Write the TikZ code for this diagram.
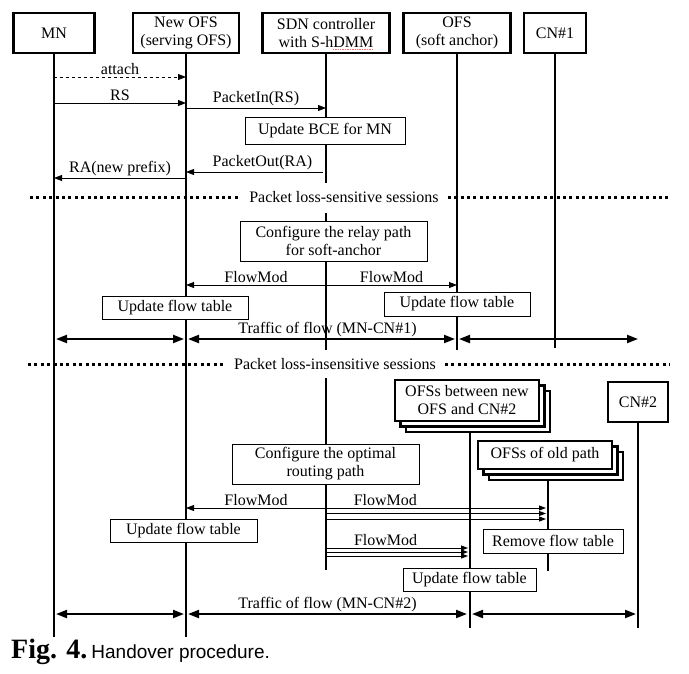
\documentclass[tikz,border=0pt]{standalone}
\usepackage{fontspec}
\setmainfont{Liberation Serif}
\newfontfamily\capsans{Liberation Sans}
\usetikzlibrary{arrows.meta,shadows}
\begin{document}
\begin{tikzpicture}[x=1pt,y=-1pt,font=\fontsize{16}{18}\selectfont,
hdr/.style={draw, line width=2.2pt, fill=white, align=center, minimum height=40pt, inner sep=0pt},
stack/.style={hdr, double copy shadow={shadow xshift=5.5pt, shadow yshift=-5.5pt, draw, fill=white, line width=2.2pt}},
act/.style={draw, line width=0.9pt, fill=white, align=center, inner sep=0pt},
life/.style={line width=1.4pt},
msg/.style={line width=0.9pt, -{Triangle[length=8pt,width=6pt]}},
tri/.style={line width=0.9pt, -{Triangle[length=7pt,width=5pt]}},
flow/.style={line width=2pt, {Triangle[length=11pt,width=8pt]}-{Triangle[length=11pt,width=8pt]}},
sep/.style={line width=3pt, dash pattern=on 3pt off 3.4pt},
lbl/.style={inner sep=1.5pt}]
\fill[white] (0,0) rectangle (689,673);
\useasboundingbox (0,0) rectangle (689,673);
\node[hdr, minimum width=81pt] (mn) at (54,33) {MN};
\node[hdr, minimum width=106pt] (nofs) at (186,33) {New OFS\\(serving OFS)};
\node[hdr, minimum width=127pt] (sdn) at (326,33) {SDN controller\\with S-hDMM};
\node[hdr, minimum width=107pt] (aofs) at (457,33) {OFS\\(soft anchor)};
\node[hdr, minimum width=62pt] (cn1) at (555,33) {CN\#1};
\draw[red!60, line width=0.7pt, densely dotted] (333,49) -- (373,49);
\coordinate (mnEnd) at (54,637);
\coordinate (nofsEnd) at (186,637);
\coordinate (sdn1) at (326,183);
\coordinate (sdn2) at (326,213);
\coordinate (sdn3) at (326,350);
\coordinate (sdn4) at (326,378);
\coordinate (sdn5) at (326,570);
\coordinate (aofsEnd) at (457,350);
\coordinate (cn1End) at (555,348);
\draw[life] (mn) -- (mnEnd);
\draw[life] (nofs) -- (nofsEnd);
\draw[life] (sdn) -- (sdn1);
\draw[life] (sdn2) -- (sdn3);
\draw[life] (sdn4) -- (sdn5);
\draw[life] (aofs) -- (aofsEnd);
\draw[life] (cn1) -- (cn1End);
\node[stack, minimum width=144pt, minimum height=41pt] (betw) at (467,400.5) {OFSs between new\\OFS and CN\#2};
\node[hdr, minimum width=60pt] (cn2) at (638,402) {CN\#2};
\node[stack, minimum width=134pt, minimum height=28pt] (old) at (545,455) {OFSs of old path};
\coordinate (betwTop) at (470,432);
\coordinate (betwEnd) at (470,628);
\coordinate (cn2End) at (638,628);
\coordinate (oldTop) at (548,479);
\coordinate (oldEnd) at (548,571);
\draw[life] (betwTop) -- (betwEnd);
\draw[life] (cn2) -- (cn2End);
\draw[life] (oldTop) -- (oldEnd);
\coordinate (m1a) at (54,77);
\coordinate (m1b) at (186,77);
\coordinate (m2a) at (54,103);
\coordinate (m2b) at (186,103);
\coordinate (m3a) at (186,108);
\coordinate (m3b) at (326,108);
\coordinate (m4a) at (323,172);
\coordinate (m4b) at (186,172);
\coordinate (m5a) at (186,178);
\coordinate (m5b) at (54,178);
\draw[msg, dashed] (m1a) -- (m1b) node[midway, above, lbl] (lattach) {attach};
\draw[msg] (m2a) -- (m2b) node[midway, above, lbl] (lrs) {RS};
\draw[msg] (m3a) -- (m3b) node[midway, above, lbl] (lpin) {PacketIn(RS)};
\node[act, minimum width=160pt, minimum height=27pt] (bce) at (325,130.5) {Update BCE for MN};
\draw[msg] (m4a) -- (m4b) node[midway, above, lbl, xshift=8pt] (lpout) {PacketOut(RA)};
\draw[msg] (m5a) -- (m5b) node[midway, above, lbl] (lra) {RA(new prefix)};
\node[inner xsep=9pt, inner ysep=0pt] (sess1) at (344,197) {Packet loss-sensitive sessions};
\coordinate (s1a) at (30,197);
\coordinate (s1b) at (670,197);
\draw[sep] (s1a) -- (sess1);
\draw[sep] (sess1) -- (s1b);
\node[act, minimum width=187pt, minimum height=40pt] (relay) at (333.5,241) {Configure the relay path\\for soft-anchor};
\coordinate (f1a) at (326,285);
\coordinate (f1b) at (186,285);
\coordinate (f1c) at (457,285);
\draw[msg] (f1a) -- (f1b) node[midway, above, lbl] (lfm1) {FlowMod};
\draw[msg] (f1a) -- (f1c) node[midway, above, lbl] (lfm2) {FlowMod};
\node[act, minimum width=146pt, minimum height=23pt] (uft1) at (175,307.5) {Update flow table};
\node[act, minimum width=146pt, minimum height=24pt] (uft2) at (457,304) {Update flow table};
\coordinate (t1a) at (56,339);
\coordinate (t1b) at (184,339);
\coordinate (t1c) at (188,339);
\coordinate (t1d) at (455,339);
\coordinate (t1e) at (459,339);
\coordinate (t1f) at (638,339);
\draw[flow] (t1a) -- (t1b);
\draw[flow] (t1c) -- (t1d) node[midway, above, lbl, xshift=6pt] (ltr1) {Traffic of flow (MN-CN\#1)};
\draw[flow] (t1e) -- (t1f);
\node[inner xsep=9pt, inner ysep=0pt] (sess2) at (335,364) {Packet loss-insensitive sessions};
\coordinate (s2a) at (28,364);
\coordinate (s2b) at (670,364);
\draw[sep] (s2a) -- (sess2);
\draw[sep] (sess2) -- (s2b);
\node[act, minimum width=187pt, minimum height=40pt] (route) at (325.5,464) {Configure the optimal\\routing path};
\coordinate (f2a) at (326,508);
\coordinate (f2b) at (186,508);
\coordinate (f3a) at (326,513.5);
\coordinate (f4a) at (326,519);
\coordinate (f2c) at (546,508);
\coordinate (f3c) at (546,513.5);
\coordinate (f4c) at (546,519);
\draw[msg] (f2a) -- (f2b) node[midway, above, lbl] (lfm3) {FlowMod};
\draw[tri] (f2a) -- (f2c) node[pos=0.27, above, lbl] (lfm4) {FlowMod};
\draw[tri] (f3a) -- (f3c);
\draw[tri] (f4a) -- (f4c);
\coordinate (f5a) at (326,548);
\coordinate (f6a) at (326,552);
\coordinate (f7a) at (326,556);
\coordinate (f5c) at (468,548);
\coordinate (f6c) at (468,552);
\coordinate (f7c) at (468,556);
\draw[tri] (f5a) -- (f5c) node[pos=0.42, above, lbl] (lfm5) {FlowMod};
\draw[tri] (f6a) -- (f6c);
\draw[tri] (f7a) -- (f7c);
\node[act, minimum width=147pt, minimum height=23pt] (uft3) at (183.5,530.5) {Update flow table};
\node[act, minimum width=140pt, minimum height=24pt] (rft) at (553,541) {Remove flow table};
\node[act, minimum width=133pt, minimum height=23pt] (uft4) at (469.5,579.5) {Update flow table};
\coordinate (t2a) at (56,614);
\coordinate (t2b) at (184,614);
\coordinate (t2c) at (188,614);
\coordinate (t2d) at (467,614);
\coordinate (t2e) at (472,614);
\coordinate (t2f) at (636,614);
\draw[flow] (t2a) -- (t2b);
\draw[flow] (t2c) -- (t2d) node[midway, above, lbl] (ltr2) {Traffic of flow (MN-CN\#2)};
\draw[flow] (t2e) -- (t2f);
\node[anchor=base west, inner sep=0pt] (cap) at (11,658) {{\fontsize{28}{30}\selectfont\bfseries Fig. 4.}\ {\capsans\fontsize{19}{22}\selectfont Handover procedure.}};
\end{tikzpicture}
\end{document}
